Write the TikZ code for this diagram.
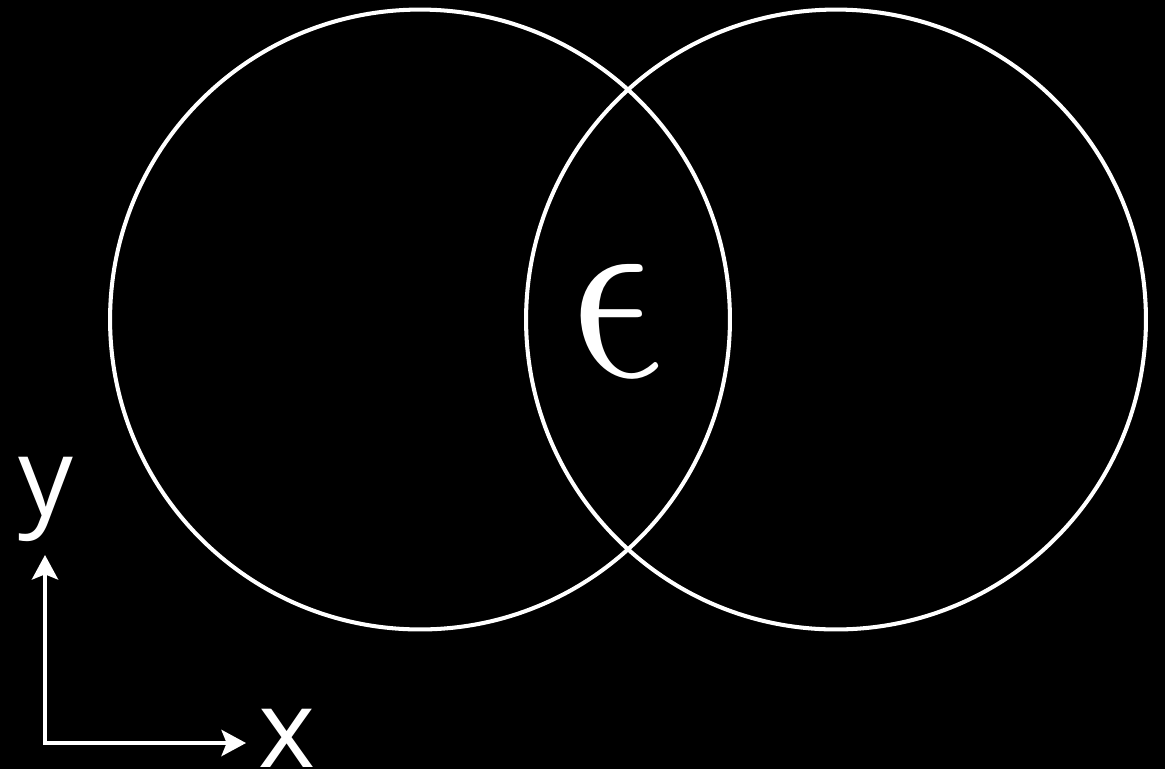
\documentclass[tikz,border=0pt]{standalone}
\usepackage{fontspec}
\newfontfamily\axisfont{Open Sans}
\usetikzlibrary{arrows.meta}
\tikzset{
  ring/.style={circle,draw=white,line width=2.3pt,inner sep=0pt,
               minimum size=12.4cm},
  axis/.style={-{Stealth[length=14pt,width=15pt,inset=3pt]},white,
               line width=1.9pt,line cap=rect},
  lbl/.style={text=white,inner sep=0pt,
              font=\axisfont\fontsize{62}{62}\selectfont}
}

\begin{document}
\begin{tikzpicture}[x=0.02cm,y=-0.02cm]
  \clip (0,0) rectangle (1165,769);
  \fill[black] (0,0) rectangle (1165,769);
  % the two overlapping circles
  \node[ring] (left) at (420,319.5) {};
  \node[ring] (right) at (836,319.5) {};
  \begin{scope}[shift={(615,321)},xslant=-0.2]
    \node[text=white,inner sep=0pt,transform shape] (eps) at (0,0)
      {\scalebox{12.6}[14.8]{$\epsilon$}};
  \end{scope}
  % axes
  \coordinate (origin) at (45,743);
  \coordinate (ytip) at (45,555);
  \coordinate (xtip) at (246,743);
  \draw[axis] (origin) -- (ytip);
  \draw[axis] (origin) -- (xtip);
  \node[lbl,anchor=base] (ylbl) at (46,515) {y};
  \node[lbl,anchor=base] (xlbl) at (287,767) {x};
\end{tikzpicture}
\end{document}
